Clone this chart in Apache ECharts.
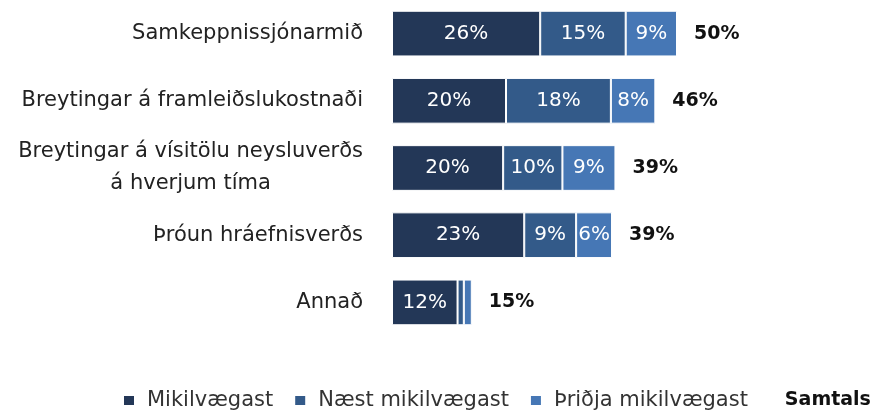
<!DOCTYPE html>
<html>
<head>
<meta charset="utf-8">
<script src="https://cdn.jsdelivr.net/npm/echarts@6/dist/echarts.min.js"></script>
<style>
  html, body { margin: 0; padding: 0; background: #fff; }
  #chart { width: 875px; height: 414px; }
</style>
</head>
<body>
<div id="chart"></div>
<script>
var categories = ['Samkeppnissjónarmið', 'Breytingar á framleiðslukostnaði',
    'Breytingar á vísitölu neysluverðs\ná hverjum tíma', 'Þróun hráefnisverðs', 'Annað'];
var seriesNames = ['Mikilvægast', 'Næst mikilvægast', 'Þriðja mikilvægast'];
var mikilvaegast = [26, 20, 19.5, 23.2, 11.5];
var naestMikilvaegast = [15, 18.4, 10.4, 9.1, 1.1];
var thridjaMikilvaegast = [9, 7.8, 9.3, 6.3, 1.4];
var samtals = [50, 46, 39, 39, 15];
var colors = ['#233757', '#335a89', '#4677b5'];

var font = '"DejaVu Sans", sans-serif';

function segment(name, data, color) {
    return {
        name: name,
        type: 'bar',
        stack: 'total',
        barCategoryGap: '32%',
        data: data,
        itemStyle: { color: color, borderColor: '#fff', borderWidth: 1 },
        label: {
            show: true,
            position: 'inside',
            color: '#fff',
            fontFamily: font,
            fontSize: 20,
            formatter: function (p) { return p.value >= 3 ? Math.round(p.value) + '%' : ''; }
        }
    };
}

var chart = echarts.init(document.getElementById('chart'));
chart.setOption({
    animation: false,
    legend: {
        top: 390,
        left: 122,
        width: 753,
        padding: 0,
        itemWidth: 12,
        itemHeight: 11,
        itemGap: 20,
        textStyle: { fontFamily: font, fontSize: 21, color: '#333', padding: [0, 0, 0, 7] },
        data: [
            { name: seriesNames[0], icon: 'rect' },
            { name: seriesNames[1], icon: 'rect' },
            { name: seriesNames[2], icon: 'rect' },
            { name: 'Samtals', icon: 'none', textStyle: { fontWeight: 'bold', fontSize: 19, color: '#111', padding: 0 } }
        ]
    },
    grid: { left: 392, top: -2, width: 456, height: 338 },
    xAxis: { type: 'value', min: 0, max: 80, show: false },
    yAxis: {
        type: 'category',
        inverse: true,
        data: categories,
        axisLine: { show: false },
        axisTick: { show: false },
        axisLabel: {
            margin: 29,
            fontFamily: font,
            fontSize: 21,
            color: '#222',
            lineHeight: 32,
            formatter: function (v) {
                return v.split('\n').map(function (s) { return '{c|' + s + '}'; }).join('\n');
            },
            rich: { c: { align: 'center', fontFamily: font, fontSize: 21, color: '#222', lineHeight: 32 } }
        }
    },
    series: [
        segment(seriesNames[0], mikilvaegast, colors[0]),
        segment(seriesNames[1], naestMikilvaegast, colors[1]),
        segment(seriesNames[2], thridjaMikilvaegast, colors[2]),
        {
            name: 'Samtals',
            type: 'bar',
            stack: 'total',
            data: samtals.map(function () { return 0; }),
            itemStyle: { color: 'rgba(0,0,0,0)' },
            label: {
                show: true,
                position: 'right',
                distance: 17,
                fontFamily: font,
                fontSize: 19,
                fontWeight: 'bold',
                color: '#111',
                formatter: function (p) { return samtals[p.dataIndex] + '%'; }
            }
        }
    ]
});
</script>
</body>
</html>
